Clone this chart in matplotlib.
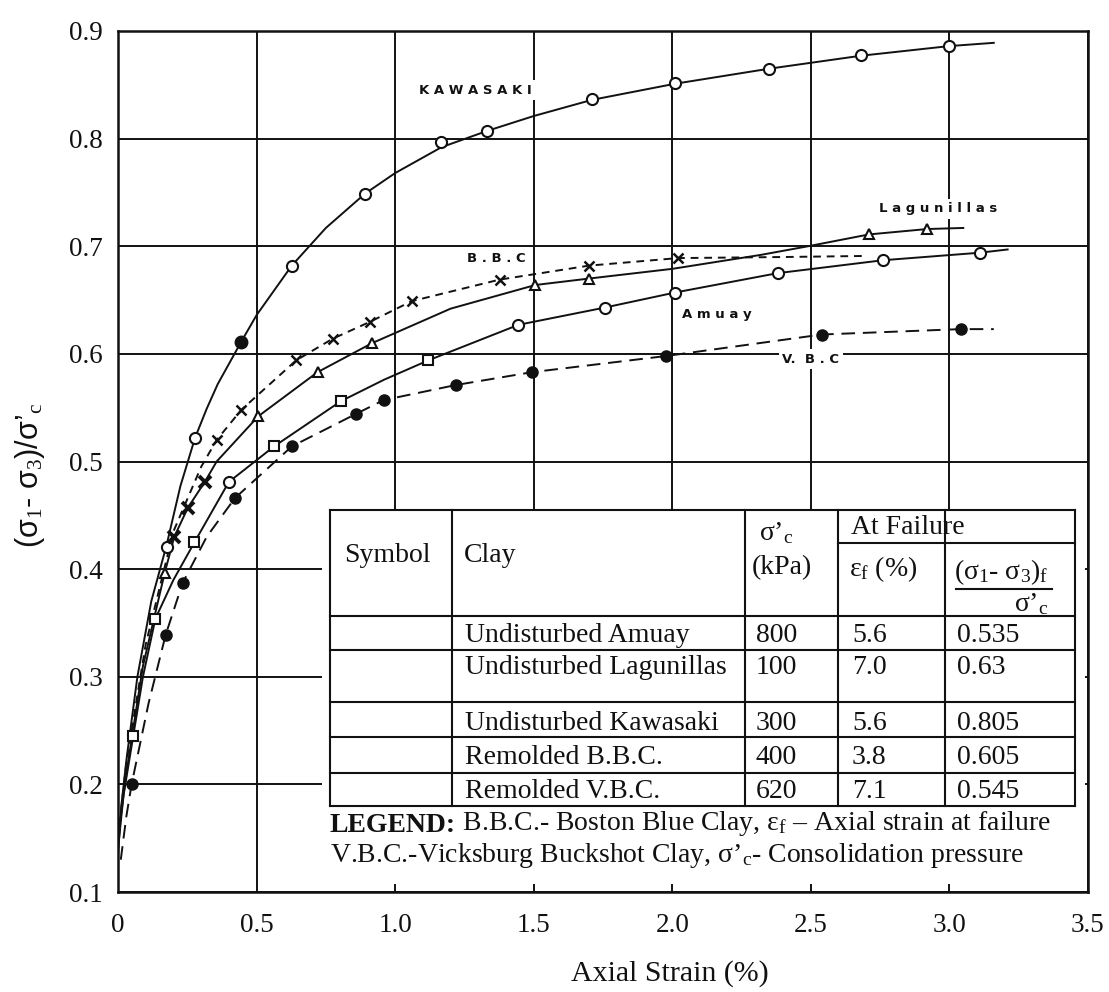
import matplotlib
matplotlib.use('Agg')
import matplotlib.pyplot as plt
from matplotlib.lines import Line2D
from matplotlib.patches import Rectangle

plt.rcParams['font.family'] = ['Liberation Serif', 'DejaVu Serif']
plt.rcParams['mathtext.fontset'] = 'custom'
plt.rcParams['mathtext.rm'] = 'Liberation Serif'
plt.rcParams['mathtext.it'] = 'Liberation Serif:italic'
plt.rcParams['mathtext.bf'] = 'Liberation Serif:bold'

# ---------------- data ----------------
x_ticks = [0, 0.5, 1.0, 1.5, 2.0, 2.5, 3.0, 3.5]
x_tick_labels = ['0', '0.5', '1.0', '1.5', '2.0', '2.5', '3.0', '3.5']
y_ticks = [0.1, 0.2, 0.3, 0.4, 0.5, 0.6, 0.7, 0.8, 0.9]
y_tick_labels = ['0.1', '0.2', '0.3', '0.4', '0.5', '0.6', '0.7', '0.8', '0.9']

# Kawasaki (solid, open circles)
kaw_x = [0.0, 0.012, 0.031, 0.07, 0.12, 0.175, 0.225, 0.278, 0.32, 0.36, 0.444, 0.5, 0.627, 0.75, 0.892,
         1.0, 1.167, 1.33, 1.5, 1.71, 2.01, 2.35, 2.68, 3.0, 3.16]
kaw_y = [0.135, 0.18, 0.224, 0.30, 0.37, 0.422, 0.477, 0.522, 0.549, 0.572, 0.611, 0.636, 0.682, 0.717, 0.749,
         0.768, 0.792, 0.807, 0.821, 0.836, 0.851, 0.865, 0.877, 0.886, 0.889]
kaw_mx = [0.175, 0.278, 0.627, 0.892, 1.167, 1.33, 1.71, 2.01, 2.35, 2.68, 3.0]
kaw_my = [0.421, 0.522, 0.682, 0.749, 0.797, 0.807, 0.837, 0.852, 0.865, 0.878, 0.886]
kaw_fx = [0.444]
kaw_fy = [0.611]

# Boston Blue Clay (short dashes, x)
bbc_x = [0.0, 0.03, 0.1, 0.2, 0.3, 0.356, 0.445, 0.643, 0.774, 0.911, 1.06, 1.377, 1.70, 2.02, 2.4, 2.7]
bbc_y = [0.15, 0.22, 0.33, 0.435, 0.495, 0.52, 0.548, 0.594, 0.614, 0.630, 0.649, 0.669, 0.682, 0.689, 0.690, 0.691]
bbc_mx = [0.356, 0.445, 0.643, 0.774, 0.911, 1.06, 1.377, 1.70, 2.02]
bbc_my = [0.52, 0.548, 0.594, 0.614, 0.630, 0.649, 0.669, 0.682, 0.689]

# Lagunillas (solid, triangles)
lag_x = [0.0, 0.03, 0.09, 0.168, 0.203, 0.252, 0.313, 0.356, 0.506, 0.72, 0.917, 1.2, 1.506, 1.70,
         2.0, 2.32, 2.49, 2.71, 2.92, 3.05]
lag_y = [0.15, 0.21, 0.31, 0.396, 0.43, 0.457, 0.481, 0.50, 0.542, 0.583, 0.610, 0.642, 0.664, 0.670,
         0.679, 0.692, 0.700, 0.711, 0.716, 0.717]
lag_mx = [0.168, 0.506, 0.72, 0.917, 1.506, 1.70, 2.71, 2.92]
lag_my = [0.396, 0.542, 0.583, 0.610, 0.664, 0.670, 0.711, 0.716]
lag_bx = [0.203, 0.252, 0.313]
lag_by = [0.43, 0.457, 0.481]

# Amuay (solid, open squares / circles)
amu_x = [0.0, 0.02, 0.055, 0.09, 0.135, 0.2, 0.276, 0.40, 0.563, 0.804, 0.96, 1.12, 1.445, 1.756,
         2.01, 2.38, 2.76, 3.11, 3.21]
amu_y = [0.14, 0.19, 0.245, 0.30, 0.354, 0.39, 0.425, 0.481, 0.514, 0.556, 0.576, 0.594, 0.627, 0.643,
         0.657, 0.675, 0.687, 0.694, 0.697]
amu_sx = [0.055, 0.135, 0.276, 0.563, 0.804, 1.12]
amu_sy = [0.245, 0.354, 0.425, 0.514, 0.556, 0.594]
amu_cx = [0.40, 1.445, 1.756, 2.01, 2.38, 2.76, 3.11]
amu_cy = [0.481, 0.627, 0.643, 0.657, 0.675, 0.687, 0.694]

# Vicksburg Buckshot Clay (long dashes, filled circles)
vbc_x = [0.01, 0.03, 0.049, 0.11, 0.172, 0.233, 0.32, 0.422, 0.627, 0.857, 0.958, 1.218, 1.494,
         1.977, 2.54, 3.04, 3.16]
vbc_y = [0.13, 0.17, 0.2, 0.275, 0.339, 0.387, 0.43, 0.466, 0.514, 0.544, 0.557, 0.571, 0.583,
         0.598, 0.618, 0.623, 0.623]
vbc_mx = [0.049, 0.172, 0.233, 0.422, 0.627, 0.857, 0.958, 1.218, 1.494, 1.977, 2.54, 3.04]
vbc_my = [0.2, 0.339, 0.387, 0.466, 0.514, 0.544, 0.557, 0.571, 0.583, 0.598, 0.618, 0.623]

curve_labels = ['K A W A S A K I', 'B . B . C', 'L a g u n i l l a s', 'A m u a y', 'V.  B . C']
curve_label_x = [1.29, 1.365, 2.96, 2.16, 2.50]
curve_label_y = [0.845, 0.689, 0.735, 0.637, 0.595]

tbl_clay = ['Undisturbed Amuay', 'Undisturbed Lagunillas', 'Undisturbed Kawasaki',
            'Remolded B.B.C.', 'Remolded V.B.C.']
tbl_sigc = ['800', '100', '300', '400', '620']
tbl_ef = ['5.6', '7.0', '5.6', '3.8', '7.1']
tbl_ratio = ['0.535', '0.63', '0.805', '0.605', '0.545']

# ---------------- figure ----------------
W, H = 1109, 992
fig = plt.figure(figsize=(W / 100, H / 100), dpi=100)
L, R, T, B = 118, 1088, 31, 892
ax = fig.add_axes([L / W, 1 - B / H, (R - L) / W, (B - T) / H])
ax.set_xlim(0, 3.5)
ax.set_ylim(0.1, 0.9)
ax.set_xticks(x_ticks)
ax.set_xticklabels(x_tick_labels)
ax.set_yticks(y_ticks)
ax.set_yticklabels(y_tick_labels)
ax.tick_params(length=0, labelsize=19.5, colors='#111111')
ax.tick_params(axis='y', pad=11)
ax.tick_params(axis='x', pad=15)
ax.grid(True, color='#111111', linewidth=1.4)
ax.set_axisbelow(True)
for s in ax.spines.values():
    s.set_linewidth(1.8)
    s.set_color('#111111')


def P(x, y):
    return (x / W, 1 - y / H)


# white area behind the table (gridlines do not cross it)
ax.add_patch(Rectangle(P(322, 884), (1085 - 322) / W, (884 - 509) / H,
                       transform=fig.transFigure, facecolor='white', edgecolor='none', zorder=1))

lc = '#111111'
lw = 1.4
ax.plot(kaw_x, kaw_y, color=lc, lw=lw, zorder=3)
ax.plot(bbc_x, bbc_y, color=lc, lw=lw, ls=(0, (4, 3)), zorder=3)
ax.plot(lag_x, lag_y, color=lc, lw=lw, zorder=3)
ax.plot(amu_x, amu_y, color=lc, lw=lw, zorder=3)
ax.plot(vbc_x, vbc_y, color=lc, lw=lw, ls=(0, (7, 4)), zorder=3)

ms = 8
ax.plot(kaw_mx, kaw_my, 'o', ms=ms, mfc='white', mec=lc, mew=1.5, zorder=4)
ax.plot(kaw_fx, kaw_fy, 'o', ms=ms + 1, mfc=lc, mec=lc, zorder=4)
ax.plot(bbc_mx, bbc_my, 'x', ms=7, mec=lc, mew=1.8, zorder=4)
ax.plot(lag_mx, lag_my, '^', ms=7, mfc='white', mec=lc, mew=1.5, zorder=4)
ax.plot(lag_bx, lag_by, 'x', ms=8, mec=lc, mew=2.8, zorder=4)
ax.plot(amu_sx, amu_sy, 's', ms=7.5, mfc='white', mec=lc, mew=1.5, zorder=4)
ax.plot(amu_cx, amu_cy, 'o', ms=ms, mfc='white', mec=lc, mew=1.5, zorder=4)
ax.plot(vbc_mx, vbc_my, 'o', ms=ms, mfc=lc, mec=lc, zorder=4)

for t, x, y in zip(curve_labels, curve_label_x, curve_label_y):
    ax.text(x, y, t, ha='center', va='center', fontsize=9.5, fontweight='bold',
            family='DejaVu Sans', color=lc, zorder=5,
            bbox=dict(facecolor='white', edgecolor='none', pad=2.5))

# ---------------- table ----------------
tx = [330, 452, 745, 838, 945, 1075]
ty_top, ty_sub = 510, 543
ty_rows = [616, 650, 702, 737, 773, 806]
tl = dict(color=lc, lw=1.5, transform=fig.transFigure, zorder=6)


def hline(x0, x1, y):
    fig.add_artist(Line2D([x0 / W, x1 / W], [1 - y / H, 1 - y / H], **tl))


def vline(x, y0, y1):
    fig.add_artist(Line2D([x / W, x / W], [1 - y0 / H, 1 - y1 / H], **tl))


hline(tx[0], tx[-1], ty_top)
for y in ty_rows:
    hline(tx[0], tx[-1], y)
hline(tx[3], tx[-1], ty_sub)
for x in tx:
    vline(x, ty_top, ty_rows[-1])

fs = 20
ft = dict(fontsize=fs, color=lc, va='center', ha='left', zorder=7)
fig.text(*P(344, 555), 'Symbol', **ft)
fig.text(*P(464, 556), 'Clay', **ft)
fig.text(*P(759, 533), 'σ’$_\\mathrm{c}$', **ft)
fig.text(*P(752, 568), '(kPa)', **ft)
fig.text(*P(851, 527), 'At Failure', **ft)
fig.text(*P(849, 569), 'ε$_\\mathrm{f}$ (%)', **ft)
fig.text(*P(954, 572), '(σ$_\\mathrm{1}$- σ$_\\mathrm{3}$)$_\\mathrm{f}$', **ft)
hline(956, 1052, 589)
fig.text(*P(1014, 604), 'σ’$_\\mathrm{c}$', **ft)

row_text_y = [635, 667, 723, 757, 791]
for i, yy in enumerate(row_text_y):
    fig.text(*P(465, yy), tbl_clay[i], **ft)
    fig.text(*P(756, yy), tbl_sigc[i], **ft)
    fig.text(*P(852, yy), tbl_ef[i], **ft)
    fig.text(*P(957, yy), tbl_ratio[i], **ft)

lg = fig.text(*P(330, 826), 'LEGEND:', fontsize=fs, fontweight='bold', color=lc,
              va='center', ha='left', zorder=7)
ax.annotate(' B.B.C.- Boston Blue Clay, ε$_\\mathrm{f}$ – Axial strain at failure',
            xy=(1, 0), xycoords=lg, va='bottom', ha='left', fontsize=fs, color=lc,
            annotation_clip=False, zorder=7)
fig.text(*P(330, 855), 'V.B.C.-Vicksburg Buckshot Clay, σ’$_\\mathrm{c}$- Consolidation pressure',
         **ft)

# ---------------- axis labels ----------------
fig.text(*P(670, 974), 'Axial Strain (%)', fontsize=21.5, ha='center', va='center', color=lc)
fig.text(*P(30, 475), '(σ$_\\mathrm{1}$- σ$_\\mathrm{3}$)/σ’$_\\mathrm{c}$', fontsize=22,
         family='Liberation Sans', rotation=90, ha='center', va='center', color=lc)

fig.savefig('out.png', dpi=100, facecolor='white')
